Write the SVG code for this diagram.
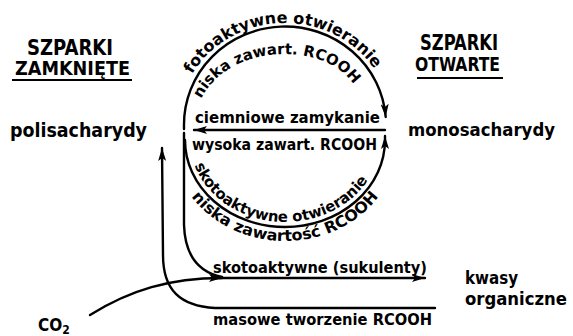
<svg xmlns="http://www.w3.org/2000/svg" width="573" height="336" viewBox="0 0 573 336">
<style>
.t{font-family:"DejaVu Sans Condensed","DejaVu Sans","Liberation Sans",sans-serif;font-weight:bold;fill:#000}
.ln{fill:none;stroke:#000;stroke-width:2.4;stroke-linecap:round}
.ul{stroke:#000;stroke-width:2.2}
</style>
<defs>
<marker id="ah" markerUnits="userSpaceOnUse" markerWidth="14" markerHeight="8" refX="13" refY="4" orient="auto">
<path d="M0,0 L13,4 L0,8 L3,4 z" fill="#000"/>
</marker>
<path id="pTopOut" d="M 178 125 A 107 102 0 0 1 392 125"/>
<path id="pTopIn" d="M 195 118 C 210 35 350 35 362 105"/>
<path id="pLowIn" d="M 190 140 A 95 82 0 0 0 380 140"/>
<path id="pLowOut" d="M 172 140 A 113 101 0 0 0 398 140"/>
</defs>
<rect width="573" height="336" fill="#fff"/>

<g id="szparki-zamkniete">
<text class="t" x="27" y="55" font-size="21" textLength="86" lengthAdjust="spacingAndGlyphs">SZPARKI</text>
<text class="t" x="15" y="75" font-size="20" textLength="115" lengthAdjust="spacingAndGlyphs">ZAMKNIĘTE</text>
<line class="ul" x1="12" y1="80" x2="132" y2="80"/>
</g>
<g id="szparki-otwarte">
<text class="t" x="420" y="50" font-size="21" textLength="78" lengthAdjust="spacingAndGlyphs">SZPARKI</text>
<text class="t" x="415" y="71" font-size="19" textLength="85" lengthAdjust="spacingAndGlyphs">OTWARTE</text>
<line class="ul" x1="417" y1="78" x2="503" y2="78"/>
</g>
<g id="polisacharydy">
<text class="t" x="10" y="137" font-size="19.5" textLength="137" lengthAdjust="spacingAndGlyphs">polisacharydy</text>
</g>
<g id="monosacharydy">
<text class="t" x="408" y="136" font-size="18.5" textLength="147" lengthAdjust="spacingAndGlyphs">monosacharydy</text>
</g>
<g id="kwasy-organiczne">
<text class="t" x="465" y="284" font-size="17" textLength="53" lengthAdjust="spacingAndGlyphs">kwasy</text>
<text class="t" x="465" y="305" font-size="18" textLength="102" lengthAdjust="spacingAndGlyphs">organiczne</text>
</g>
<g id="co2">
<text class="t" x="38" y="331" font-size="17">CO<tspan font-size="12" dy="3">2</tspan></text>
</g>

<g id="connectors">
<path class="ln" d="M 184 129 L 184 125 A 101 98 0 0 1 385.7 117" marker-end="url(#ah)"/>
<path class="ln" d="M 385 130 L 194 130" marker-end="url(#ah)"/>
<path class="ln" d="M 185 140 A 100 87 0 0 0 385 140 L 385 136" marker-end="url(#ah)"/>
<path class="ln" d="M 184 133 L 184 225 C 185 255 198 272 222 277"/>
<path class="ln" d="M 215 278 L 425 278" marker-end="url(#ah)"/>
<path class="ln" d="M 90 315 C 130 290 170 278 222 278" marker-end="url(#ah)"/>
<path class="ln" d="M 435 308 L 215 308 C 180 306 163 290 163 255 L 162 148" marker-end="url(#ah)"/>
</g>

<g id="labels">
<text class="t" font-size="16"><textPath href="#pTopOut" startOffset="49%" text-anchor="middle" textLength="215" lengthAdjust="spacingAndGlyphs">fotoaktywne otwieranie</textPath></text>
<text class="t" font-size="15"><textPath href="#pTopIn" startOffset="20" textLength="178" lengthAdjust="spacingAndGlyphs">niska zawart. RCOOH</textPath></text>
<text class="t" x="195" y="123" font-size="16.5" textLength="185" lengthAdjust="spacingAndGlyphs">ciemniowe zamykanie</text>
<text class="t" x="192" y="150" font-size="15.5" textLength="185" lengthAdjust="spacingAndGlyphs">wysoka zawart. RCOOH</text>
<text class="t" font-size="15"><textPath href="#pLowIn" startOffset="47%" text-anchor="middle" textLength="210" lengthAdjust="spacingAndGlyphs">skotoaktywne otwieranie</textPath></text>
<text class="t" font-size="15.5"><textPath href="#pLowOut" startOffset="50%" text-anchor="middle" textLength="214" lengthAdjust="spacingAndGlyphs">niska zawartość RCOOH</textPath></text>
<text class="t" x="213" y="273" font-size="15" textLength="214" lengthAdjust="spacingAndGlyphs">skotoaktywne (sukulenty)</text>
<text class="t" x="213" y="325" font-size="15" textLength="219" lengthAdjust="spacingAndGlyphs">masowe tworzenie RCOOH</text>
</g>
</svg>
